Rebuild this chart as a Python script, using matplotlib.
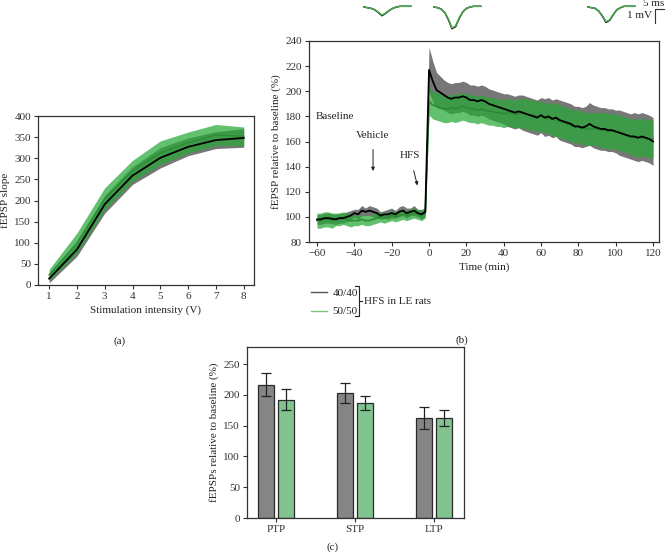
import numpy as np
import matplotlib
matplotlib.use('Agg')
import matplotlib.pyplot as plt
from matplotlib.lines import Line2D

plt.rcParams['font.family'] = 'Liberation Serif'
plt.rcParams['font.size'] = 8
plt.rcParams['axes.edgecolor'] = '#333333'
plt.rcParams['xtick.color'] = '#333333'
plt.rcParams['ytick.color'] = '#333333'
plt.rcParams['text.color'] = '#222222'
plt.rcParams['axes.labelcolor'] = '#222222'

# ---- data ----
# (a) input/output curve
intensity = [1, 2, 3, 4, 5, 6, 7, 8]
io_black = [15, 84, 191, 259, 301, 327, 343, 348]
io_black_sem = [10, 16, 21, 21, 24, 21, 20, 22]
io_green = [24, 99, 204, 270, 313, 337, 355, 352]
io_green_sem = [13, 24, 26, 25, 28, 25, 25, 22]

# (b) time course, one value every 2 min from -60 to 120
t_start, t_end, t_step = -60, 120, 2
ltp_black = [98, 98, 99, 99, 98.5, 98, 99, 99, 100, 101,
             103, 102, 105, 104, 105, 104, 103, 101, 102, 102,
             103, 102, 104, 105, 103, 104, 105, 103, 102, 104,
             217, 208, 201, 199, 197, 195, 194, 195, 195, 196,
             195, 193, 193, 192, 193, 192, 190, 189, 188, 187,
             186, 185, 184, 183, 184, 183, 182, 181, 180, 179,
             181, 179, 180, 178, 179, 177, 176, 175, 174, 172,
             172, 171, 172, 174, 172, 171, 170, 170, 169, 169,
             168, 167, 166, 165, 164, 164, 163, 164, 163, 162,
             160]
ltp_black_sem = [4, 4, 4, 4, 4, 4, 4, 4, 4, 4,
                 3, 4, 4, 3, 4, 4, 4, 3, 3, 4,
                 4, 3, 4, 4, 4, 3, 4, 3, 4, 3,
                 18, 16, 14, 13, 12, 12, 12, 12, 12, 12,
                 12, 12, 12, 12, 12, 12, 12, 12, 12, 12,
                 12, 13, 13, 13, 13, 14, 14, 14, 14, 14,
                 14, 15, 15, 15, 15, 16, 16, 16, 16, 16,
                 16, 16, 16, 17, 17, 17, 17, 17, 17, 17,
                 17, 18, 18, 18, 18, 19, 19, 19, 19, 19,
                 19]
ltp_green = [97, 97, 98, 98, 97, 98, 98, 99, 98, 97,
             97, 97, 98, 97, 97, 98, 99, 100, 99, 100,
             101, 100, 101, 102, 101, 102, 103, 102, 101, 103,
             192, 189, 188, 187, 186, 186, 187, 186, 187, 188,
             187, 186, 186, 185, 186, 185, 184, 184, 183, 183,
             182, 183, 183, 182, 182, 183, 182, 181, 181, 180,
             180, 179, 178, 178, 177, 176, 175, 174, 173, 172,
             172, 171, 170, 170, 170, 170, 169, 169, 168, 168,
             168, 167, 166, 165, 164, 163, 163, 163, 163, 162,
             162]
ltp_green_sem = [6, 6, 6, 6, 6, 5, 5, 5, 5, 5,
                 4, 4, 4, 4, 4, 4, 4, 4, 4, 4,
                 4, 4, 4, 4, 4, 4, 4, 4, 4, 4,
                 11, 11, 11, 11, 11, 11, 11, 11, 11, 11,
                 11, 11, 11, 11, 11, 11, 11, 11, 11, 11,
                 11, 11, 11, 11, 11, 12, 12, 12, 12, 12,
                 12, 12, 12, 13, 13, 13, 13, 13, 13, 13,
                 13, 13, 13, 13, 13, 13, 14, 14, 14, 14,
                 14, 14, 14, 14, 14, 15, 15, 15, 15, 15,
                 15]

# example fEPSP traces (mV, one sample every 2 ms)
trace_ms = [0, 2, 4, 6, 8, 10, 12, 14, 16, 18, 20, 22, 24, 26]
trace_base_k = [0, -0.05, -0.1, -0.2, -0.4, -0.62, -0.45, -0.25, -0.1, 0.0, 0.05, 0.05, 0.05, 0.05]
trace_base_g = [0, -0.05, -0.1, -0.2, -0.38, -0.58, -0.43, -0.24, -0.1, 0.0, 0.05, 0.05, 0.05, 0.05]
trace_ptp_k = [0, -0.05, -0.15, -0.4, -0.9, -1.55, -1.4, -0.8, -0.35, -0.1, 0.0, 0.05, 0.05, 0.05]
trace_ptp_g = [0, -0.05, -0.15, -0.4, -0.85, -1.5, -1.35, -0.78, -0.35, -0.1, 0.0, 0.05, 0.05, 0.05]
trace_ltp_k = [0, -0.05, -0.1, -0.3, -0.65, -1.1, -0.95, -0.55, -0.2, -0.05, 0.05, 0.05, 0.05, 0.05]
trace_ltp_g = [0, -0.05, -0.1, -0.3, -0.62, -1.05, -0.92, -0.52, -0.2, -0.05, 0.05, 0.05, 0.05, 0.05]

# (c) summary bars
phases = ['PTP', 'STP', 'LTP']
bar_black = [217, 203, 163]
bar_black_err = [18, 16, 18]
bar_green = [192, 187, 163]
bar_green_err = [17, 12, 13]

# ---- colours ----
grey_band = '#777777'
green_fill = '#26a836'
bar_grey = '#858585'
bar_green_c = '#82c48f'

fig = plt.figure(figsize=(6.72, 5.55), dpi=100)
W, H = 672.0, 555.0


def px_axes(l, t, r, b):
    return fig.add_axes([l / W, 1 - b / H, (r - l) / W, (b - t) / H])


def style(ax):
    for s in ax.spines.values():
        s.set_linewidth(0.9)
    ax.tick_params(direction='out', length=3, width=0.8, labelsize=8, pad=2)


# ---- panel (a) ----
axa = px_axes(38, 116, 254, 285)
x = np.array(intensity)
kb, ks = np.array(io_black), np.array(io_black_sem)
gb, gs = np.array(io_green), np.array(io_green_sem)
axa.fill_between(x, kb - ks, kb + ks, color=grey_band, lw=0)
axa.fill_between(x, gb - gs, gb + gs, color=green_fill, alpha=0.72, lw=0)
axa.plot(x, gb, color='#2f8a35', lw=1.0)
axa.plot(x, kb, color='black', lw=1.3)
axa.set_xlim(0.6, 8.37)
axa.set_ylim(0, 400)
axa.set_yticks(range(0, 401, 50))
axa.set_xticks(intensity)
axa.set_xlabel('Stimulation intensity (V)', fontsize=8, labelpad=3)
axa.set_ylabel('fEPSP slope', fontsize=8, labelpad=3)
style(axa)

# ---- panel (b) ----
axb = px_axes(309, 41, 659, 242)
t = np.arange(t_start, t_end + 1, t_step)
kb, ks = np.array(ltp_black), np.array(ltp_black_sem)
gb, gs = np.array(ltp_green), np.array(ltp_green_sem)
axb.fill_between(t, kb - ks, kb + ks, color=grey_band, lw=0)
axb.fill_between(t, gb - gs, gb + gs, color=green_fill, alpha=0.72, lw=0)
axb.plot(t, gb, color='#2f8a35', lw=1.2)
axb.plot(t, kb, color='black', lw=1.3)
axb.set_xlim(-64.3, 123.2)
axb.set_ylim(80, 240)
axb.set_xticks(range(-60, 121, 20))
axb.set_yticks(range(80, 241, 20))
axb.set_xlabel('Time (min)', fontsize=8, labelpad=3)
axb.set_ylabel('fEPSP relative to baseline (%)', fontsize=8, labelpad=3)
style(axb)
axb.text(-60.8, 180, 'Baseline', ha='left', va='center', fontsize=8)
axb.annotate('Vehicle', xy=(-30, 136.5), xytext=(-30, 165), ha='center', va='center',
             fontsize=8, arrowprops=dict(arrowstyle='-|>', color='#222222', lw=0.7,
                                         mutation_scale=5, shrinkB=0, shrinkA=5))
axb.annotate('HFS', xy=(-6.2, 125), xytext=(-10.3, 149), ha='center', va='center',
             fontsize=8, arrowprops=dict(arrowstyle='-|>', color='#222222', lw=0.7,
                                         mutation_scale=5, shrinkB=0, shrinkA=6))

# legend for (b)
handles = [Line2D([], [], color='#555555', lw=1.0), Line2D([], [], color='#7cc47c', lw=1.0)]
fig.legend(handles, ['40/40', '50/50'], loc='upper left', bbox_to_anchor=(305 / W, 1 - 283 / H),
           frameon=False, handlelength=1.5, handletextpad=0.5, labelspacing=0.75, fontsize=8,
           borderpad=0)
bx = [355 / W, 359 / W, 359 / W, 355 / W]
by = [1 - 286 / H, 1 - 286 / H, 1 - 316 / H, 1 - 316 / H]
fig.add_artist(Line2D(bx, by, color='#222222', lw=0.8, transform=fig.transFigure))
fig.add_artist(Line2D([359 / W, 362 / W], [1 - 301 / H, 1 - 301 / H], color='#222222', lw=0.8,
                      transform=fig.transFigure))
fig.text(364 / W, 1 - 301 / H, 'HFS in LE rats', ha='left', va='center', fontsize=8)

# example traces above (b): 1.8 px per ms, 14 px per mV
axt = px_axes(300, 0, 672, 40)
axt.set_xlim(0, 372 / 1.8)
axt.set_ylim(-40 / 14, 0)
axt.axis('off')
tm = np.array(trace_ms)
for off_px, tk, tg in [(364, trace_base_k, trace_base_g),
                       (434, trace_ptp_k, trace_ptp_g),
                       (588, trace_ltp_k, trace_ltp_g)]:
    x0 = (off_px - 300) / 1.8
    axt.plot(x0 + tm, np.array(tk) - 7 / 14, color='black', lw=1.1)
    axt.plot(x0 + tm, np.array(tg) - 7 / 14, color='#4caf50', lw=1.0)
# scale bar: 5 ms, 1 mV
sx = (655 - 300) / 1.8
axt.plot([sx, sx, sx + 5], [-23 / 14, -9 / 14, -9 / 14], color='#333333', lw=0.8)
axt.text(sx + 5, -8.5 / 14, '5 ms', ha='right', va='bottom', fontsize=8)
axt.text(sx - 1.5, -16 / 14, '1 mV', ha='right', va='center', fontsize=8)

# ---- panel (c) ----
axc = px_axes(247, 347, 464, 518)
xc = np.arange(len(phases))
axc.bar(xc - 0.127, bar_black, 0.2, color=bar_grey, edgecolor='#2a2a2a', lw=0.9,
        yerr=bar_black_err, capsize=3.5, error_kw=dict(lw=0.9, capthick=0.9, ecolor='#222222'))
axc.bar(xc + 0.127, bar_green, 0.2, color=bar_green_c, edgecolor='#2a2a2a', lw=0.9,
        yerr=bar_green_err, capsize=3.5, error_kw=dict(lw=0.9, capthick=0.9, ecolor='#222222'))
axc.set_xlim(-0.367, 2.38)
axc.set_ylim(0, 278)
axc.set_yticks(range(0, 251, 50))
axc.set_xticks(xc)
axc.set_xticklabels(phases)
axc.set_ylabel('fEPSPs relative to baseline (%)', fontsize=8, labelpad=3)
style(axc)

# panel labels
fig.text(120 / W, 1 - 341 / H, '(a)', ha='center', va='center', fontsize=8)
fig.text(462 / W, 1 - 340 / H, '(b)', ha='center', va='center', fontsize=8)
fig.text(333 / W, 1 - 547 / H, '(c)', ha='center', va='center', fontsize=8)

fig.savefig('out.png', dpi=100)
